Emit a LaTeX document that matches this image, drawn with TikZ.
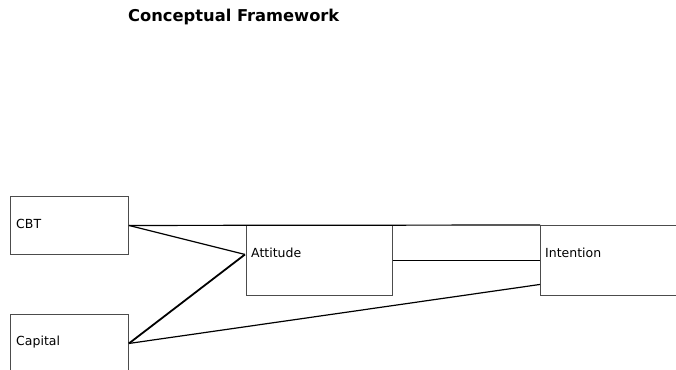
\documentclass[tikz,border=0pt]{standalone}
\usepackage{fontspec}
\setmainfont{DejaVu Sans}
\usetikzlibrary{positioning,calc}
\begin{document}
\begin{tikzpicture}[
    x=1pt, y=-1pt,
    % Estilos dos nós
    box/.style={
        rectangle,
        draw=black!70,
        line width=0.9pt,
        inner sep=0pt,
        anchor=north west
    },
    boxtext/.style={
        font=\fontsize{12.5}{14}\selectfont,
        inner sep=0pt,
        anchor=west
    },
    titletext/.style={
        font=\fontsize{16.3}{18}\selectfont\bfseries,
        inner sep=0pt,
        anchor=west
    },
    link/.style={draw=black, line width=1.2pt},
    linkthick/.style={draw=black, line width=1.8pt}
]
\useasboundingbox (0,0) rectangle (676,369);
\clip (0,0) rectangle (676,369);

% ============================================================================
% Título
% ============================================================================
\node[titletext] (title) at (128, 17) {Conceptual Framework};

% ============================================================================
% Caixas
% ============================================================================
\node[box, minimum width=118pt, minimum height=58pt] (cbt) at (10, 196) {};
\node[boxtext] (cbttext) at (16, 224) {CBT};

\node[box, minimum width=118pt, minimum height=58pt] (capital) at (10, 314) {};
\node[boxtext] (capitaltext) at (16, 342) {Capital};

\node[box, minimum width=146pt, minimum height=70pt] (attitude) at (246, 225) {};
\node[boxtext] (attitudetext) at (251, 253) {Attitude};

\node[box, minimum width=146pt, minimum height=70pt] (intention) at (540, 225) {};
\node[boxtext] (intentiontext) at (545, 253) {Intention};

% ============================================================================
% Ligações
% ============================================================================
\coordinate (attin) at ([xshift=-1pt, yshift=6pt]attitude.west);
\coordinate (intlow) at ([yshift=-24pt]intention.west);

\draw[link] (cbt.east) -- (intention.north west);
\draw[link] (cbt.east) -- (attin);
\draw[linkthick] (capital.east) -- (attin);
\draw[link] (capital.east) -- (intlow);
\draw[link] (attitude.east) -- (intention.west);

\end{tikzpicture}
\end{document}
